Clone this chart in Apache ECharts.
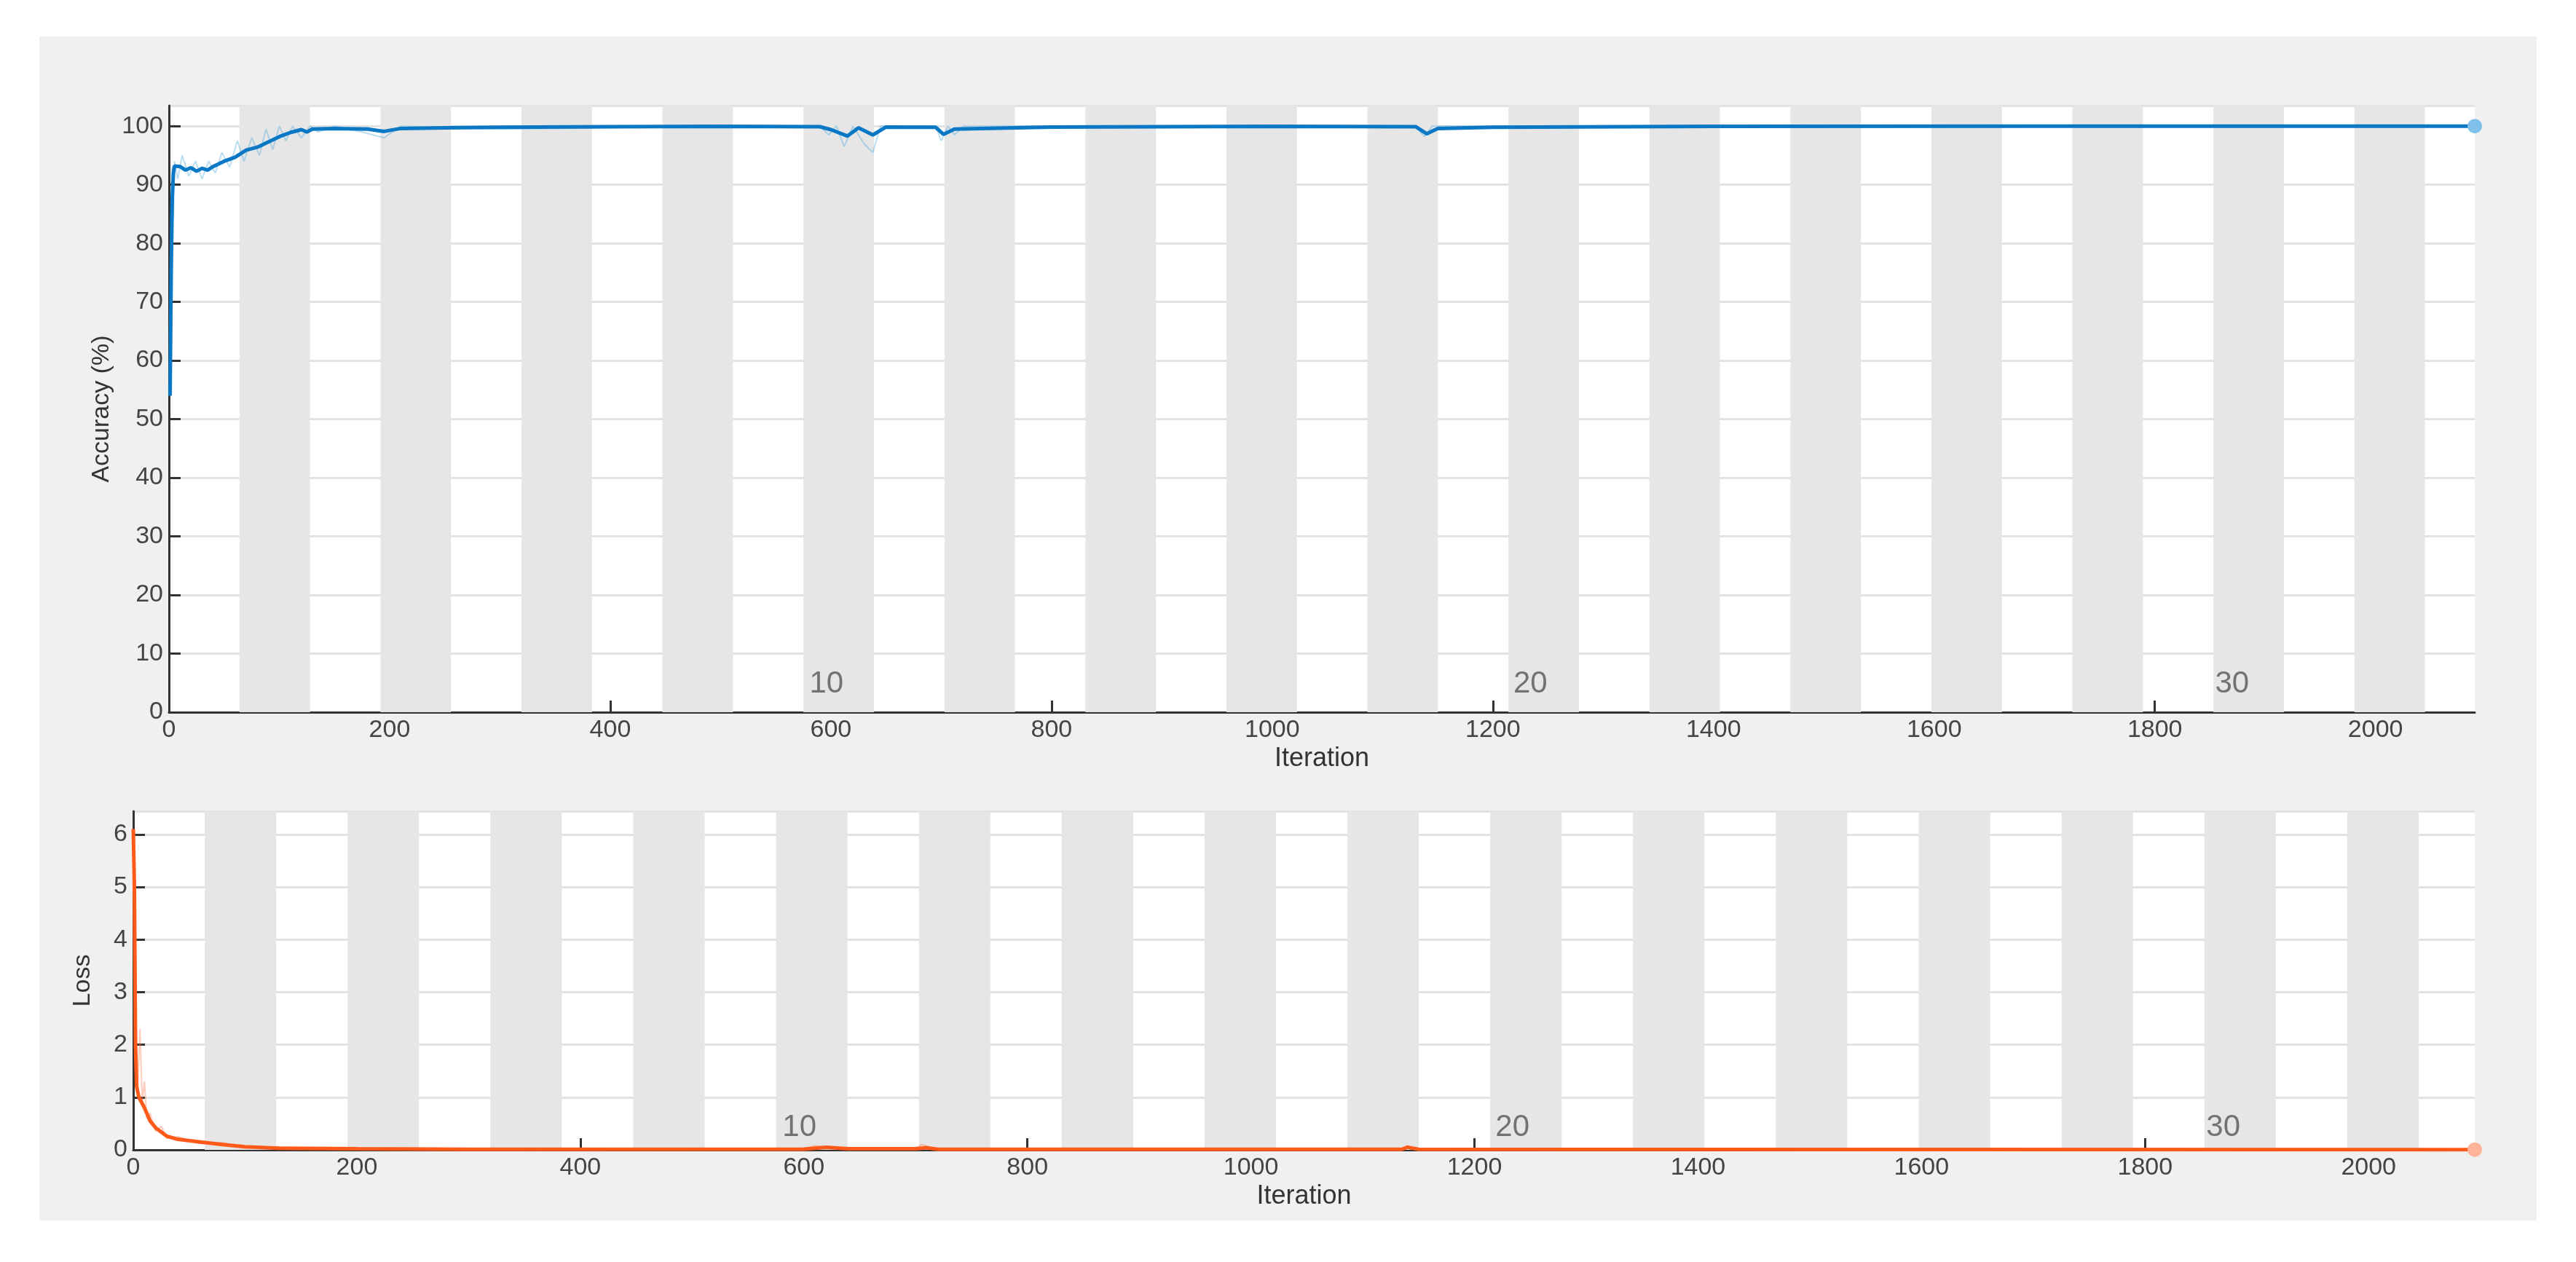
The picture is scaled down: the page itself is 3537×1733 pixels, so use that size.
<!DOCTYPE html>
<html><head><meta charset="utf-8">
<script src="https://cdn.jsdelivr.net/npm/echarts@6/dist/echarts.min.js"></script>
<style>html,body{margin:0;padding:0;background:#fff}#c{width:3537px;height:1733px}</style>
</head><body><div id="c"></div>
<script>
const epochLen = 63.9;
const epochLabels = [[596, '10'], [1234, '20'], [1870, '30']];
const accSmooth = [[1,54],[2,75],[3,88],[4,92],[5,93.2],[10,93.1],[15,92.5],[20,92.9],[25,92.3],[30,92.8],[35,92.5],[40,93.1],[50,94],[60,94.7],[70,95.9],[80,96.4],[90,97.3],[100,98.2],[110,98.9],[120,99.4],[125,99.0],[130,99.5],[150,99.6],[180,99.5],[195,99.1],[210,99.6],[250,99.7],[300,99.8],[400,99.9],[500,99.95],[590,99.9],[600,99.4],[615,98.3],[625,99.7],[638,98.5],[650,99.85],[695,99.8],[702,98.6],[712,99.5],[800,99.85],[1000,99.95],[1130,99.9],[1140,98.7],[1150,99.6],[1200,99.8],[1400,99.95],[1700,100],[2090,100]];
const accRaw = [[1,54],[2,82],[3,93],[4,84],[5,94],[8,91],[12,95],[18,91.5],[24,94],[30,91],[36,94],[42,92],[48,95.5],[55,93],[62,97.5],[68,94],[75,98],[82,95],[88,99.5],[94,96],[100,100],[106,97.5],[112,100],[120,98],[128,100],[135,99],[150,100],[175,99],[195,98],[210,100],[300,99.5],[500,100],[590,100],[598,98.5],[605,100],[612,96.5],[620,100],[630,97],[638,95.5],[645,100],[695,100],[700,97.5],[706,100],[712,98.5],[720,100],[800,100],[1000,100],[1130,100],[1138,98.2],[1145,100],[2090,100]];
const lossSmooth = [[0,6.1],[1,5],[2,2],[3,1.2],[5,1.0],[10,0.8],[15,0.55],[20,0.42],[30,0.26],[40,0.2],[60,0.15],[80,0.1],[100,0.06],[130,0.03],[200,0.02],[300,0.01],[600,0.015],[620,0.05],[640,0.02],[700,0.02],[710,0.04],[720,0.01],[1135,0.01],[1140,0.05],[1150,0.01],[2095,0.005]];
const lossRaw = [[0,6.1],[2,1.8],[4,1.2],[6,2.3],[8,0.9],[10,1.3],[12,0.6],[15,0.7],[20,0.35],[25,0.45],[30,0.22],[40,0.25],[60,0.12],[80,0.14],[100,0.04],[130,0.06],[200,0.01],[600,0.01],[610,0.08],[630,0.02],[700,0.01],[705,0.1],[720,0.01],[1135,0.01],[1140,0.08],[1150,0.01],[2095,0.005]];

function bands(maxX){const a=[];for(let k=0;(2*k+1)*epochLen<maxX;k++){a.push([{xAxis:(2*k+1)*epochLen},{xAxis:Math.min((2*k+2)*epochLen,maxX)}]);}return a;}
const f='Liberation Sans, Arial, sans-serif';
const axisCommon = (gi, max, name) => ({
  type:'value', gridIndex:gi, min:0, max:max, interval:200, name:name, nameLocation:'middle', nameGap:46,
  nameTextStyle:{fontFamily:f,fontSize:36,color:'#333'},
  axisLine:{show:true,onZero:false,lineStyle:{color:'#333',width:3}},
  axisTick:{show:true,inside:true,length:16,lineStyle:{color:'#333',width:3}},
  axisLabel:{fontFamily:f,fontSize:34,color:'#444',margin:8,showMaxLabel:false,formatter:v=>String(v)},
  splitLine:{show:false}
});
const yCommon = (gi,max,iv,name,gap)=>({type:'value',gridIndex:gi,min:0,max:max,interval:iv,name:name,nameLocation:'middle',nameGap:gap,
    nameTextStyle:{fontFamily:f,fontSize:34,color:'#333'},
    axisLine:{show:true,lineStyle:{color:'#333',width:3}},axisTick:{show:true,inside:true,length:16,lineStyle:{color:'#333',width:3}},
    axisLabel:{fontFamily:f,fontSize:34,color:'#444',showMaxLabel:false},splitLine:{lineStyle:{color:'#e2e2e2',width:3}}});
const chart = echarts.init(document.getElementById('c'));
chart.setOption({
  backgroundColor:'#fff', animation:false,
  graphic:[{type:'rect',shape:{x:54,y:50,width:3429,height:1626},style:{fill:'#f0f0f0'},z:-10}],
  grid:[{left:232,right:139,top:145,bottom:755,show:true,backgroundColor:'#fff',borderWidth:0},
        {left:183,right:139,top:1114,bottom:154,show:true,backgroundColor:'#fff',borderWidth:0}],
  xAxis:[axisCommon(0,2090,'Iteration'),axisCommon(1,2095,'Iteration')],
  yAxis:[yCommon(0,103.5,10,'Accuracy (%)',68), yCommon(1,6.44,1,'Loss',52)],
  series:[
   {type:'line',xAxisIndex:0,yAxisIndex:0,data:accRaw,showSymbol:false,lineStyle:{color:'rgba(60,160,220,0.35)',width:2},z:2,
    markArea:{silent:true,itemStyle:{color:'#e6e6e6'},data:bands(2090)}},
   {type:'line',xAxisIndex:0,yAxisIndex:0,data:accSmooth,showSymbol:false,lineStyle:{color:'#0a78c4',width:5},z:3,
    markPoint:{symbol:'circle',symbolSize:20,itemStyle:{color:'#7fc0ea'},label:{show:false},data:[{coord:[2090,100]}]}},
   {type:'scatter',xAxisIndex:0,yAxisIndex:0,symbolSize:0,data:epochLabels.map(d=>[d[0],0,d[1]]),
    label:{show:true,position:'top',distance:18,formatter:p=>p.data[2],fontFamily:f,fontSize:42,color:'#555'},z:4},
   {type:'line',xAxisIndex:1,yAxisIndex:1,data:lossRaw,showSymbol:false,lineStyle:{color:'rgba(255,110,60,0.35)',width:2},z:2,
    markArea:{silent:true,itemStyle:{color:'#e6e6e6'},data:bands(2095)}},
   {type:'line',xAxisIndex:1,yAxisIndex:1,data:lossSmooth,showSymbol:false,lineStyle:{color:'#ff5a1a',width:5},z:3,
    markPoint:{symbol:'circle',symbolSize:20,itemStyle:{color:'#ffb49a'},label:{show:false},data:[{coord:[2095,0.005]}]}},
   {type:'scatter',xAxisIndex:1,yAxisIndex:1,symbolSize:0,data:epochLabels.map(d=>[d[0],0,d[1]]),
    label:{show:true,position:'top',distance:10,formatter:p=>p.data[2],fontFamily:f,fontSize:42,color:'#555'},z:4}
  ]
});
</script></body></html>
